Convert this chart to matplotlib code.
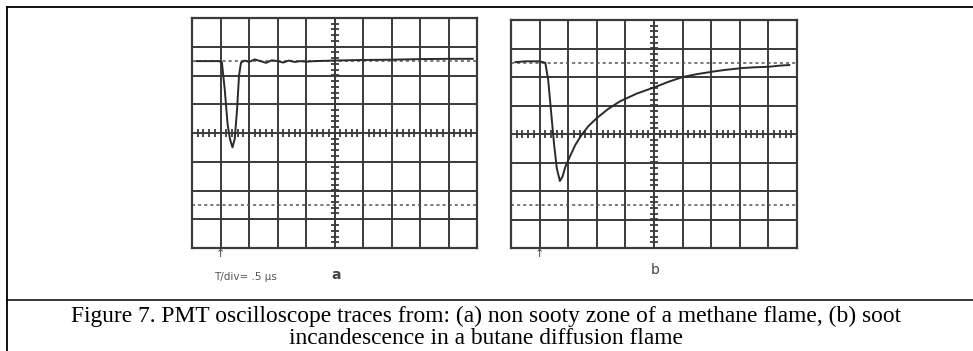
import numpy as np
import matplotlib.pyplot as plt
from matplotlib.lines import Line2D

# traces, x in divisions (0-10), y in divisions (-4..4)
trace_a_x = [0.15, 0.6, 0.95, 1.05, 1.15, 1.25, 1.33, 1.42, 1.5, 1.58, 1.65, 1.72, 1.85,
             2.0, 2.2, 2.4, 2.6, 2.8, 3.0, 3.2, 3.4, 3.6, 3.8, 4.0, 4.3, 5.0, 6.0, 7.0, 8.0, 9.0, 9.85]
trace_a_y = [2.5, 2.5, 2.5, 2.45, 1.5, 0.3, -0.2, -0.5, -0.2, 0.8, 2.0, 2.45, 2.52,
             2.47, 2.56, 2.5, 2.44, 2.53, 2.5, 2.45, 2.52, 2.47, 2.5, 2.48, 2.5, 2.52, 2.54, 2.55, 2.57, 2.58, 2.58]

trace_b_x = [0.15, 0.5, 1.0, 1.2, 1.3, 1.4, 1.5, 1.6, 1.71, 1.8, 1.9, 2.06, 2.25, 2.47,
             2.7, 2.99, 3.4, 3.8, 4.4, 5.02, 5.5, 6.01, 6.5, 7.06, 7.5, 8.05, 8.5, 9.03, 9.4, 9.73]
trace_b_y = [2.52, 2.55, 2.55, 2.5, 1.9, 0.8, -0.3, -1.2, -1.65, -1.5, -1.15, -0.79, -0.38, -0.03,
             0.27, 0.55, 0.88, 1.14, 1.42, 1.64, 1.83, 2.0, 2.1, 2.19, 2.25, 2.31, 2.34, 2.36, 2.4, 2.42]

marker_levels = [2.5, -2.5]
time_label = "T/div= .5 µs"
caption_lines = ["Figure 7. PMT oscilloscope traces from: (a) non sooty zone of a methane flame, (b) soot",
                 "incandescence in a butane diffusion flame"]

W, H = 973, 351
fig = plt.figure(figsize=(W / 100, H / 100), dpi=100)
ink = "#3a3a3a"


def scope(left, top, right, bottom, xs, ys, letter, lx, ly, weight, show_time):
    ax = fig.add_axes([left / W, 1 - bottom / H, (right - left) / W, (bottom - top) / H])
    ax.set_xlim(0, 10)
    ax.set_ylim(-4, 4)
    for i in range(11):
        ax.axvline(i, color=ink, lw=1.4)
    for j in range(-4, 5):
        ax.axhline(j, color=ink, lw=1.4)
    for lev in marker_levels:
        ax.axhline(lev, color="#555555", lw=1.1, ls=(0, (2, 2)))
    # minor ticks on the centre cross
    t = np.arange(0, 10.01, 0.2)
    ax.plot(t, np.zeros_like(t), ls="none", marker="|", ms=6, color=ink, mew=1.3)
    t = np.arange(-4, 4.01, 0.2)
    ax.plot(np.full_like(t, 5), t, ls="none", marker="_", ms=6, color=ink, mew=1.3)
    ax.plot(xs, ys, color="#2a2a2a", lw=1.4)
    for s in ax.spines.values():
        s.set_color(ink)
        s.set_linewidth(1.6)
    ax.set_xticks([])
    ax.set_yticks([])
    ax.text(1, -4.05, "↑", ha="center", va="top", fontsize=8, color="#444444")
    fig.text(lx / W, 1 - ly / H, letter, ha="center", va="center", fontsize=10,
             fontweight=weight, color="#444444")
    if show_time:
        fig.text(214 / W, 1 - 277 / H, time_label, ha="left", va="center", fontsize=7.5, color="#555555")
    return ax


scope(192, 18, 477, 248, trace_a_x, trace_a_y, "a", 336, 275, "bold", True)
scope(511, 20, 797, 248, trace_b_x, trace_b_y, "b", 655, 270, "normal", False)

# frame around figure and caption
fig.add_artist(Line2D([6.5 / W, 1], [1 - 7 / H, 1 - 7 / H], color="black", lw=1.3))
fig.add_artist(Line2D([6.5 / W, 6.5 / W], [1 - 7 / H, 0], color="black", lw=1.3))
fig.add_artist(Line2D([6.5 / W, 1], [1 - 300 / H, 1 - 300 / H], color="black", lw=1.1))

for k, line in enumerate(caption_lines):
    fig.text(486 / W, 1 - (316 + 22 * k) / H, line, ha="center", va="center",
             family="Liberation Serif", fontsize=16.9)

fig.savefig("out.png", dpi=100)
